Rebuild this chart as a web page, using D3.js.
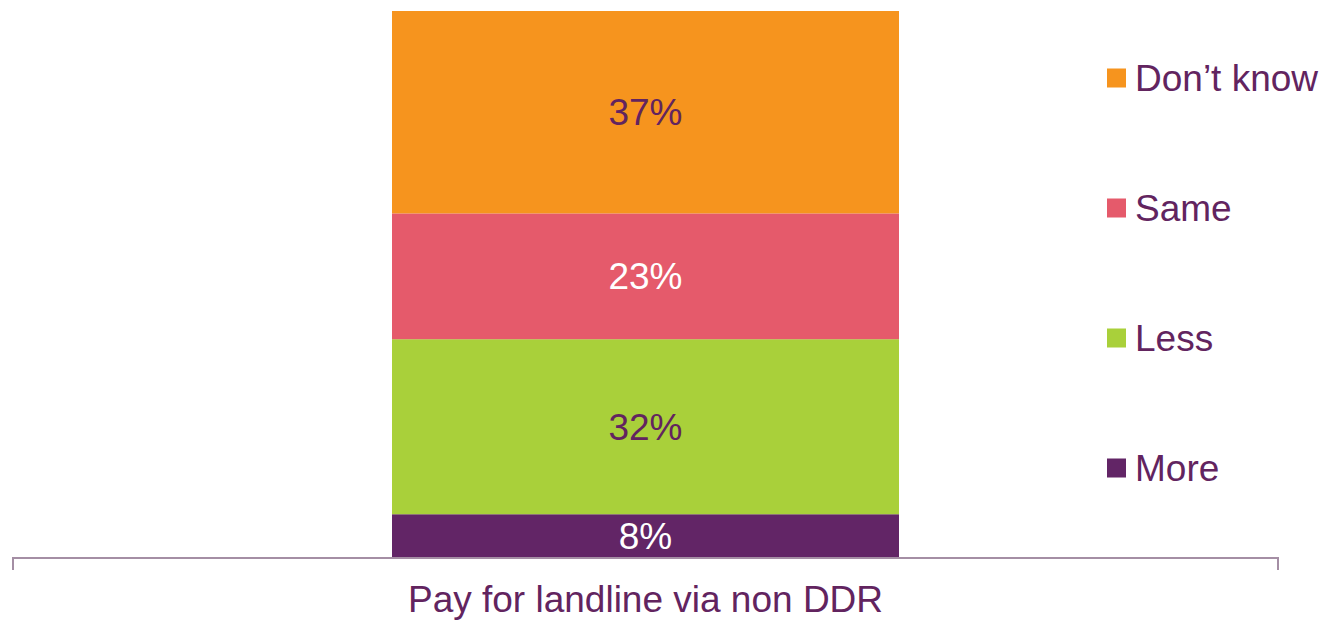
<!DOCTYPE html>
<html>
<head>
<meta charset="utf-8">
<script src="https://cdn.jsdelivr.net/npm/d3@7"></script>
<style>
  html, body { margin: 0; padding: 0; background: #fff; }
  svg { display: block; font-family: "Liberation Sans", Arial, sans-serif; }
</style>
</head>
<body>
<svg id="chart" width="1321" height="621"></svg>
<script>
// Survey response shares for a single question, stacked bottom-to-top
const categories = ["Pay for landline via non DDR"];
const seriesNames = ["More", "Less", "Same", "Don\u2019t know"];
const seriesValues = [8, 32, 23, 37];
const seriesColors = ["#622566", "#a9d03a", "#e55a6b", "#f6941e"];
const labelColors = ["#ffffff", "#62245f", "#ffffff", "#62245f"];

const svg = d3.select("#chart");
const textColor = "#62245f";
const fontSize = 37;

const x = d3.scaleBand().domain(categories).range([13, 1278]).paddingInner(0).paddingOuter(0.3);
const y = d3.scaleLinear().domain([0, 100]).range([558, 11]);

// Build stacked segments
const row = {};
seriesNames.forEach((n, i) => row[n] = seriesValues[i]);
row.category = categories[0];
const stacked = d3.stack().keys(seriesNames)([row]);

const barWidth = 507;
const cx = x(categories[0]) + x.bandwidth() / 2;

const seg = svg.append("g").selectAll("g").data(stacked).join("g");
seg.append("rect")
  .attr("x", cx - barWidth / 2)
  .attr("width", barWidth)
  .attr("y", d => y(d[0][1]))
  .attr("height", d => y(d[0][0]) - y(d[0][1]))
  .attr("fill", (d, i) => seriesColors[i]);

seg.append("text")
  .attr("x", cx)
  .attr("y", d => (y(d[0][0]) + y(d[0][1])) / 2)
  .attr("dy", "0.35em")
  .attr("text-anchor", "middle")
  .attr("font-size", fontSize)
  .attr("fill", (d, i) => labelColors[i])
  .text((d, i) => seriesValues[i] + "%");

// Category axis along the baseline
const axis = d3.axisBottom(x).tickSize(0).tickPadding(28);
const axisG = svg.append("g").attr("transform", `translate(0,${y(0)})`).call(axis);
axisG.select(".domain")
  .attr("stroke", "#a48ea4")
  .attr("stroke-width", 2)
  .attr("d", `M13,12V0H1278V12`);
axisG.selectAll(".tick text")
  .attr("font-size", fontSize)
  .attr("fill", textColor)
  .attr("font-family", "Liberation Sans, Arial, sans-serif")
  .attr("dy", "0.71em");

// Legend, top to bottom in reverse stacking order
const legendOrder = seriesNames.map((n, i) => i).reverse();
const legendY = d3.scalePoint().domain(legendOrder).range([78, 468]);
const lg = svg.append("g").selectAll("g").data(legendOrder).join("g")
  .attr("transform", i => `translate(1107,${legendY(i)})`);
lg.append("rect")
  .attr("x", 0).attr("y", -9.5)
  .attr("width", 19).attr("height", 19)
  .attr("fill", i => seriesColors[i]);
lg.append("text")
  .attr("x", 28)
  .attr("dy", "0.35em")
  .attr("font-size", fontSize)
  .attr("fill", textColor)
  .text(i => seriesNames[i]);
</script>
</body>
</html>
